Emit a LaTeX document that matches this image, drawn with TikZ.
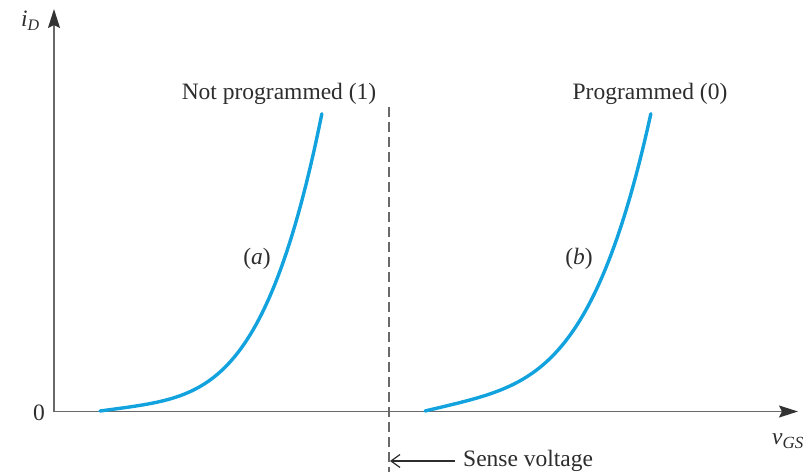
\documentclass[tikz,border=0pt]{standalone}
\usepackage{fontspec}
\setmainfont{Liberation Serif}
\usetikzlibrary{arrows.meta}
\definecolor{curveblue}{RGB}{18,163,222}
\definecolor{axisgray}{RGB}{105,105,105}
\definecolor{textgray}{RGB}{45,45,45}
\tikzset{
  axisline/.style={draw=axisgray, line width=1.5pt,
    -{Stealth[length=19pt,width=12pt,inset=3pt,color=black!80]}},
  curve/.style={draw=curveblue, line width=3.4pt, line cap=round},
  senseline/.style={draw=axisgray, line width=1.3pt, dash pattern=on 10pt off 5pt},
  sensearrow/.style={draw=textgray, line width=1.2pt,
    -{Straight Barb[length=9pt,width=13pt,line width=1.2pt]}},
  lbl/.style={text=textgray, font=\fontsize{23.5}{26}\selectfont, inner sep=0pt},
}
\begin{document}
\begin{tikzpicture}[x=1pt,y=-1pt]
\useasboundingbox (0,0) rectangle (812,472);
% axes
\coordinate (O) at (54,411.5);
\coordinate (ytip) at (54,9);
\coordinate (xtip) at (798,411.5);
\draw[axisline] (O) -- (ytip);
\draw[axisline] (O) -- (xtip);
% axis labels
\node[lbl, anchor=west] (iD) at (21,21) {\textit{i}\raisebox{-0.35ex}{\fontsize{16}{18}\selectfont\textit{D}}};
\node[lbl, anchor=east] (zero) at (45,413) {0};
\node[lbl, anchor=west] (vGS) at (772,441) {\textit{v}\raisebox{-0.35ex}{\fontsize{17}{18}\selectfont\textit{GS}}};
% sense voltage threshold
\coordinate (stop) at (389,107);
\coordinate (sbot) at (389,472);
\draw[senseline] (stop) -- (sbot);
\node[lbl, anchor=west] (sense) at (463,461) {Sense voltage};
\coordinate (sarrow) at (390,461);
\draw[sensearrow] (sense.west) ++(-8,0) coordinate (sstart) (sstart) -- (sarrow);
% characteristic curves: i = a*t + (1-a)*t^4 over each curve's span
\draw[curve] plot[domain=0:1, samples=80, variable=\t, smooth]
  ({100+222*\t},{411-298*(0.1*\t+0.9*\t^4)});
\draw[curve] plot[domain=0:1, samples=80, variable=\t, smooth]
  ({425+226*\t},{411-298*(0.18*\t+0.82*\t^4)});
% curve labels
\node[lbl] (np) at (279,94) {Not programmed (1)};
\node[lbl] (pr) at (650,94) {Programmed (0)};
\node[lbl] (ca) at (257,259) {(\textit{a})};
\node[lbl] (cb) at (579,259) {(\textit{b})};
\end{tikzpicture}
\end{document}
